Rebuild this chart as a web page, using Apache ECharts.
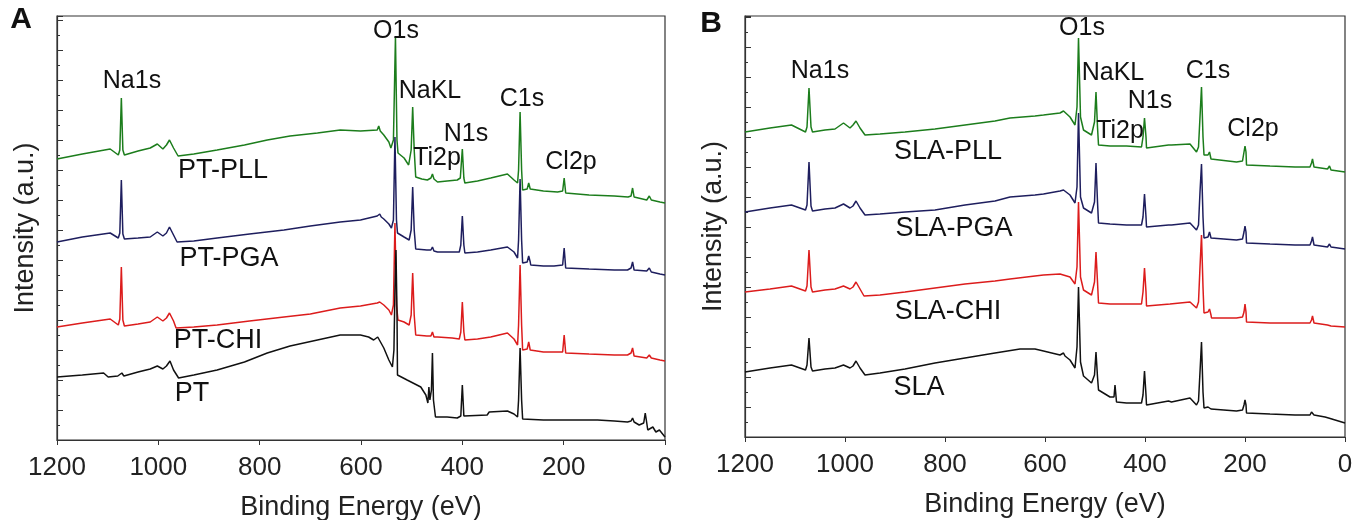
<!DOCTYPE html>
<html>
<head>
<meta charset="utf-8">
<script src="https://cdn.jsdelivr.net/npm/echarts@6/dist/echarts.min.js"></script>
<style>
  html, body { margin: 0; padding: 0; background: #fff; }
  #main { width: 1352px; height: 520px; }
</style>
</head>
<body>
<div id="main"></div>
<script>
// binding energy (eV), intensity (a.u., offset stacked)
// panel A
var ptPLL = [[1200,281],[1150,286],[1095,291],[1079,285],[1076,290],[1073,342],[1070,290],[1067,285],[1040,289],[1016,292],[1002,296],[991,291],[984,295],[978,300],[970,292],[961,284],[930,286],[884,290],[830,295],[785,300],[740,304],[686,307],[641,310],[601,309],[568,310],[565,314],[562,309],[555,305],[545,298],[541,292],[536,300],[532,403],[529,300],[527,287],[515,282],[506,275],[501,290],[498,333],[495,290],[492,263],[480,261],[469,260],[462,262],[459,266],[456,261],[449,258],[430,259],[410,260],[404,262],[400,291],[397,262],[395,257],[370,259],[344,262],[311,266],[298,260],[291,257],[289,270],[286,328],[283,270],[281,250],[272,251],[269,257],[266,251],[265,250],[240,249],[212,248],[202,249],[199,262],[196,247],[150,245],[100,244],[73,243],[67,244],[64,252],[61,243],[36,240],[31,244],[27,240],[10,238],[0,237]];
var ptPGA = [[1200,198],[1150,203],[1095,207],[1079,202],[1076,207],[1073,260],[1070,206],[1067,201],[1040,202],[1016,203],[1002,208],[991,204],[984,207],[978,213],[970,205],[963,198],[930,199],[884,202],[820,206],[752,210],[700,214],[641,218],[601,220],[568,224],[563,226],[560,223],[555,221],[545,216],[540,212],[536,220],[533,303],[530,220],[528,207],[515,203],[505,200],[501,210],[498,253],[495,210],[492,191],[470,190],[462,190],[459,193],[456,189],[449,188],[420,188],[406,188],[403,195],[400,224],[397,195],[395,187],[370,188],[344,190],[311,193],[298,188],[291,182],[289,200],[286,261],[283,200],[281,177],[272,178],[269,184],[266,178],[265,175],[240,174],[219,174],[202,175],[199,192],[196,172],[150,171],[100,170],[74,170],[67,172],[64,178],[61,170],[36,169],[31,172],[27,168],[10,166],[0,165]];
var ptCHI = [[1200,113],[1150,117],[1095,121],[1079,115],[1076,121],[1073,173],[1070,120],[1067,114],[1040,116],[1016,118],[1002,123],[991,119],[984,122],[978,127],[970,119],[965,112],[930,113],[884,115],[820,119],[752,123],[700,126],[641,132],[601,134],[568,137],[563,138],[560,136],[555,135],[545,130],[540,125],[536,135],[533,217],[530,135],[527,120],[515,118],[505,115],[501,125],[498,167],[495,125],[492,105],[470,104],[462,104],[459,108],[456,103],[449,103],[420,102],[406,101],[403,108],[400,138],[397,108],[395,100],[370,101],[344,103],[311,107],[298,101],[291,95],[289,115],[286,175],[283,115],[281,90],[272,91],[269,98],[266,90],[265,88],[240,88],[219,88],[202,88],[199,105],[196,87],[150,86],[100,85],[74,85],[67,87],[64,92],[61,84],[36,82],[31,85],[27,82],[10,80],[0,79]];
var pt = [[1200,63],[1150,65],[1108,67],[1099,63],[1080,64],[1072,67],[1068,64],[1040,68],[1016,71],[1002,74],[991,71],[984,74],[977,79],[970,70],[960,62],[930,65],[884,70],[830,78],[785,87],[740,94],[686,100],[641,105],[620,105],[601,105],[585,103],[575,100],[567,103],[565,101],[555,92],[545,80],[538,73],[535,90],[533,150],[531,190],[529,130],[528,65],[509,60],[482,53],[472,45],[468,37],[466,53],[464,40],[461,50],[459,87],[457,40],[453,23],[430,23],[410,22],[403,24],[400,55],[397,24],[395,22],[351,25],[347,28],[344,26],[311,29],[298,26],[291,23],[289,40],[286,92],[283,40],[281,21],[240,20],[179,20],[133,20],[100,19],[74,18],[67,19],[64,22],[61,18],[51,15],[42,17],[39,27],[36,17],[34,10],[24,13],[18,8],[11,10],[0,3]];

// panel B
var slaPLL = [[1200,305],[1150,309],[1107,312],[1079,305],[1076,310],[1072,349],[1068,310],[1065,305],[1040,307],[1020,308],[1003,314],[990,309],[984,312],[978,316],[970,309],[960,302],[930,303],[880,305],[820,308],[760,312],[700,316],[670,319],[620,321],[603,322],[570,324],[563,326],[550,320],[540,312],[536,330],[533,399],[529,320],[523,307],[507,302],[501,315],[498,345],[495,310],[493,292],[470,291],[460,291],[437,291],[407,290],[404,300],[401,319],[398,300],[397,289],[353,292],[350,294],[347,292],[310,293],[297,285],[293,290],[290,320],[287,350],[284,300],[282,282],[274,282],[271,285],[268,278],[267,277],[217,275],[205,276],[202,285],[200,291],[198,285],[197,272],[150,271],[100,270],[70,270],[67,274],[65,278],[62,270],[60,270],[35,268],[31,271],[28,267],[0,265]];
var slaPGA = [[1200,225],[1150,229],[1107,232],[1079,227],[1076,232],[1072,275],[1068,231],[1065,226],[1040,228],[1020,229],[1003,233],[990,229],[984,231],[978,236],[970,229],[960,222],[930,223],[880,225],[820,227],[760,232],[700,236],[670,240],[620,242],[603,243],[570,246],[563,247],[550,242],[540,234],[536,250],[533,324],[529,240],[523,229],[507,224],[501,235],[498,274],[495,235],[493,214],[470,213],[437,212],[407,212],[404,220],[401,243],[398,220],[397,210],[353,212],[350,214],[347,212],[310,214],[297,207],[293,212],[290,245],[287,273],[284,220],[282,199],[274,200],[271,205],[268,199],[267,197],[217,197],[205,198],[202,205],[200,211],[198,205],[197,194],[150,193],[100,192],[70,192],[67,196],[65,200],[62,192],[60,192],[35,190],[31,193],[28,190],[0,188]];
var slaCHI = [[1200,145],[1150,148],[1107,151],[1079,146],[1076,151],[1072,187],[1068,150],[1065,145],[1040,147],[1020,148],[1003,151],[990,148],[984,150],[978,155],[970,148],[962,141],[930,142],[880,145],[820,149],[760,153],[700,156],[670,158],[620,161],[603,162],[570,163],[550,160],[540,153],[536,170],[533,235],[529,160],[523,147],[507,142],[501,155],[498,185],[495,155],[493,134],[470,133],[437,133],[407,133],[404,145],[401,169],[398,145],[397,131],[350,133],[310,135],[297,129],[293,135],[290,170],[287,202],[284,150],[282,124],[274,125],[271,128],[268,122],[267,119],[217,119],[205,120],[202,125],[200,133],[198,125],[197,115],[150,114],[100,114],[70,114],[67,117],[65,121],[62,114],[60,113],[35,112],[31,114],[28,111],[0,110]];
var sla = [[1200,65],[1150,69],[1107,72],[1079,67],[1076,72],[1072,99],[1068,70],[1065,66],[1040,68],[1020,69],[1003,72],[990,69],[984,71],[978,76],[970,69],[960,62],[930,64],[880,68],[820,74],[760,79],[700,84],[650,88],[620,88],[603,86],[570,82],[563,84],[560,81],[550,77],[540,69],[536,90],[533,150],[529,75],[523,61],[507,54],[501,62],[498,85],[495,60],[493,47],[470,40],[462,40],[460,52],[457,35],[437,34],[407,34],[404,42],[401,66],[398,42],[397,32],[353,36],[350,37],[347,35],[310,39],[297,32],[293,36],[290,65],[287,95],[284,45],[282,29],[274,30],[271,32],[268,28],[267,27],[217,26],[205,27],[202,32],[200,37],[198,32],[197,24],[150,23],[100,22],[70,22],[67,25],[65,27],[62,22],[60,22],[40,20],[37,22],[33,19],[0,14]];

var namesA = ['PT-PLL', 'PT-PGA', 'PT-CHI', 'PT'];
var namesB = ['SLA-PLL', 'SLA-PGA', 'SLA-CHI', 'SLA'];
var colors = ['#1c7d1c', '#1e1e5e', '#dc1c1c', '#111111'];

var font = 'Liberation Sans, Arial, sans-serif';

function xAx(idx) {
  return {
    gridIndex: idx, type: 'value', inverse: true, min: 0, max: 1200, interval: 200,
    axisLine: { lineStyle: { color: '#333', width: 1.2 } },
    axisTick: { inside: false, length: 5, lineStyle: { color: '#333' } },
    axisLabel: { fontSize: 26, color: '#222', fontFamily: font, margin: 15,
      formatter: function (v) { return String(v); } },
    splitLine: { show: false },
    name: 'Binding Energy (eV)', nameLocation: 'middle', nameGap: 54,
    nameTextStyle: { fontSize: 27, color: '#222', fontFamily: font }
  };
}
function yAx(idx, max) {
  return {
    gridIndex: idx, type: 'value', position: 'left', min: 0, max: max, interval: 30,
    axisLine: { show: true, onZero: false, lineStyle: { color: '#333', width: 1.2 } },
    axisTick: { inside: true, length: 6, lineStyle: { color: '#333' } },
    minorTick: { show: true, splitNumber: 2, length: 3, lineStyle: { color: '#333' } },
    axisLabel: { show: false },
    splitLine: { show: false },
    name: 'Intensity (a.u.)', nameLocation: 'middle', nameGap: 18,
    nameTextStyle: { fontSize: 27, color: '#222', fontFamily: font }
  };
}
function line(name, data, color, idx) {
  return {
    name: name, type: 'line', xAxisIndex: idx, yAxisIndex: idx, data: data,
    showSymbol: false, symbol: 'none',
    lineStyle: { color: color, width: 1.5 }
  };
}
function label(text, x, y, size, bold) {
  return {
    type: 'text', x: x, y: y, z: 100,
    style: {
      text: text, fill: '#111', align: 'center', verticalAlign: 'middle',
      font: (bold ? 'bold ' : '') + size + 'px ' + font
    }
  };
}

var chart = echarts.init(document.getElementById('main'));
var option = {
  animation: false,
  backgroundColor: '#fff',
  grid: [
    { left: 57, top: 16, width: 608, height: 424, outerBoundsMode: 'none', containLabel: false,
      show: true, borderColor: '#333', borderWidth: 1.2 },
    { left: 745, top: 16, width: 600, height: 421, outerBoundsMode: 'none', containLabel: false,
      show: true, borderColor: '#333', borderWidth: 1.2 }
  ],
  xAxis: [xAx(0), xAx(1)],
  yAxis: [yAx(0, 424), yAx(1, 421)],
  series: [
    line(namesA[0], ptPLL, colors[0], 0),
    line(namesA[1], ptPGA, colors[1], 0),
    line(namesA[2], ptCHI, colors[2], 0),
    line(namesA[3], pt, colors[3], 0),
    line(namesB[0], slaPLL, colors[0], 1),
    line(namesB[1], slaPGA, colors[1], 1),
    line(namesB[2], slaCHI, colors[2], 1),
    line(namesB[3], sla, colors[3], 1)
  ],
  graphic: [
    label('A', 21, 20, 30, true),
    label('Na1s', 132, 81, 25),
    label('O1s', 396, 31, 25),
    label('NaKL', 430, 91, 25),
    label('N1s', 466, 134, 25),
    label('Ti2p', 437, 158, 25),
    label('C1s', 522, 99, 25),
    label('Cl2p', 571, 162, 25),
    label(namesA[0], 223, 171, 27),
    label(namesA[1], 229, 259, 27),
    label(namesA[2], 218, 341, 27),
    label(namesA[3], 192, 394, 27),
    label('B', 711, 24, 30, true),
    label('Na1s', 820, 71, 25),
    label('O1s', 1082, 28, 25),
    label('NaKL', 1113, 73, 25),
    label('N1s', 1150, 101, 25),
    label('Ti2p', 1120, 131, 25),
    label('C1s', 1208, 71, 25),
    label('Cl2p', 1253, 129, 25),
    label(namesB[0], 948, 152, 27),
    label(namesB[1], 954, 229, 27),
    label(namesB[2], 948, 312, 27),
    label(namesB[3], 919, 388, 27)
  ]
};
chart.setOption(option);
</script>
</body>
</html>
